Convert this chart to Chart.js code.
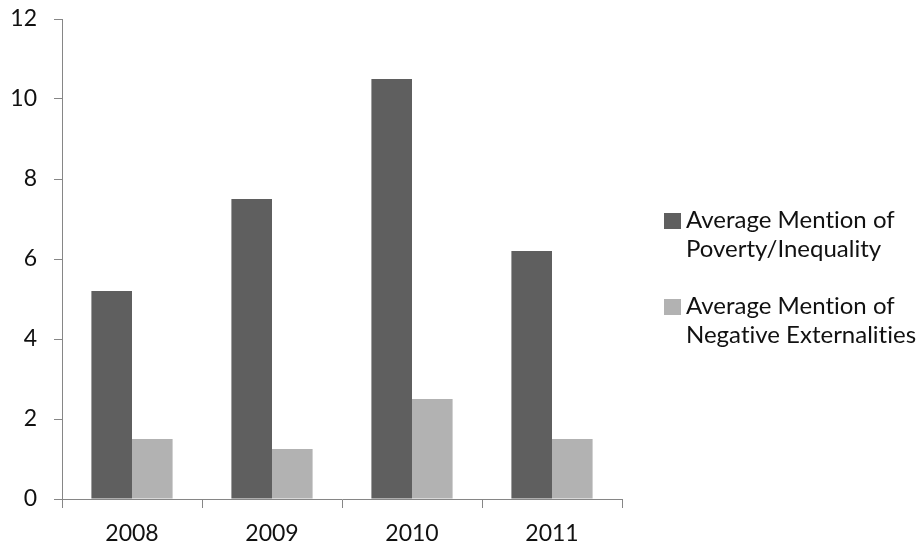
<!DOCTYPE html>
<html>
<head>
<meta charset="utf-8">
<script src="https://cdn.jsdelivr.net/npm/chart.js@4/dist/chart.umd.min.js"></script>
<style>
  html, body { margin: 0; padding: 0; background: #fff; }
  #wrap { position: relative; width: 923px; height: 548px; }
  #chart { position: absolute; left: 0; top: 0; }
  #legend { position: absolute; left: 664px; top: 204px; font-family: Lato, "Open Sans", sans-serif; font-size: 24px; color: #111; font-variant-ligatures: none; font-feature-settings: "liga" 0, "clig" 0; }
  .item { position: relative; padding-left: 22px; line-height: 29px; margin-bottom: 28px; white-space: nowrap; }
  .swatch { position: absolute; left: 0; top: 9px; width: 17px; height: 16px; }
</style>
</head>
<body>
<div id="wrap">
  <canvas id="chart" width="923" height="548"></canvas>
  <div id="legend"></div>
</div>
<script>
// Years on the category axis
const years = ['2008', '2009', '2010', '2011'];
// Series values
const povertyInequality = [5.2, 7.5, 10.5, 6.2];
const negativeExternalities = [1.5, 1.25, 2.5, 1.5];
// Series names (each split into its two legend lines)
const seriesNames = [
  ['Average Mention of', 'Poverty/Inequality'],
  ['Average Mention of', 'Negative Externalities']
];
// Value axis ticks
const yTicks = [0, 2, 4, 6, 8, 10, 12];

const colors = ['#5f5f5f', '#b2b2b2'];
const axisGray = '#868686';
const font = { family: 'Lato, "Open Sans", sans-serif', size: 23 };

const chart = new Chart(document.getElementById('chart'), {
  type: 'bar',
  data: {
    labels: years,
    datasets: [
      { label: seriesNames[0].join(' '), data: povertyInequality, backgroundColor: colors[0] },
      { label: seriesNames[1].join(' '), data: negativeExternalities, backgroundColor: colors[1] }
    ]
  },
  options: {
    responsive: false,
    animation: false,
    layout: { padding: { left: 0, top: 19, right: 301, bottom: 0 } },
    datasets: { bar: { categoryPercentage: 0.58, barPercentage: 1.0, borderWidth: 0 } },
    plugins: { legend: { display: false }, tooltip: { enabled: false } },
    scales: {
      x: {
        grid: { drawOnChartArea: false, color: axisGray, tickLength: 9, offset: true },
        border: { color: axisGray, width: 1 },
        ticks: { color: '#111', font: font, padding: 12 },
        afterFit: s => { s.height = 49; s.paddingLeft = 0; s.paddingRight = 0; }
      },
      y: {
        min: yTicks[0],
        max: yTicks[yTicks.length - 1],
        afterBuildTicks: s => { s.ticks = yTicks.map(v => ({ value: v })); },
        grid: { drawOnChartArea: false, color: axisGray, tickLength: 8 },
        border: { color: axisGray, width: 1 },
        ticks: { color: '#111', font: font, padding: 17 },
        afterFit: s => { s.width = 62; s.paddingTop = 0; s.paddingBottom = 0; }
      }
    }
  }
});

// Legend built from the dataset colours and names
const legend = document.getElementById('legend');
seriesNames.forEach((lines, i) => {
  const item = document.createElement('div');
  item.className = 'item';
  const sw = document.createElement('span');
  sw.className = 'swatch';
  sw.style.background = colors[i];
  item.appendChild(sw);
  lines.forEach(t => {
    const line = document.createElement('div');
    line.textContent = t;
    item.appendChild(line);
  });
  legend.appendChild(item);
});
</script>
</body>
</html>
